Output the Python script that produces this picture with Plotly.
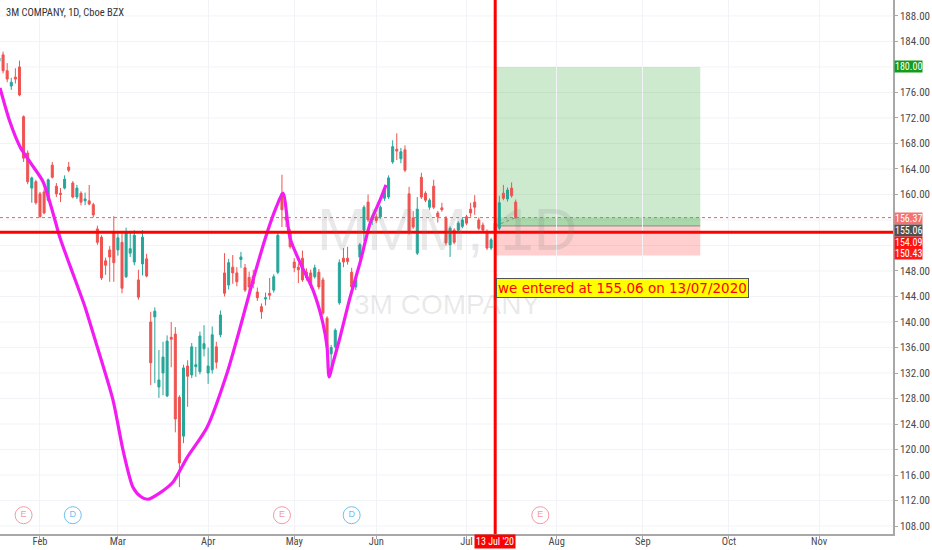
import plotly.graph_objects as go

# ---------------------------------
# Daily candles
# ---------------------------------

dates = [
    "2020-01-17", "2020-01-21", "2020-01-22", "2020-01-23", "2020-01-24", "2020-01-27",
    "2020-01-28", "2020-01-29", "2020-01-30", "2020-01-31",
    "2020-02-03", "2020-02-04", "2020-02-05", "2020-02-06", "2020-02-07", "2020-02-10",
    "2020-02-11", "2020-02-12", "2020-02-13", "2020-02-14", "2020-02-18", "2020-02-19",
    "2020-02-20", "2020-02-21", "2020-02-24", "2020-02-25", "2020-02-26", "2020-02-27",
    "2020-02-28",
    "2020-03-02", "2020-03-03", "2020-03-04", "2020-03-05", "2020-03-06", "2020-03-09",
    "2020-03-10", "2020-03-11", "2020-03-12", "2020-03-13", "2020-03-16", "2020-03-17",
    "2020-03-18", "2020-03-19", "2020-03-20", "2020-03-23", "2020-03-24", "2020-03-25",
    "2020-03-26", "2020-03-27", "2020-03-30", "2020-03-31",
    "2020-04-01", "2020-04-02", "2020-04-03", "2020-04-06", "2020-04-07", "2020-04-08",
    "2020-04-09", "2020-04-13", "2020-04-14", "2020-04-15", "2020-04-16", "2020-04-17",
    "2020-04-20", "2020-04-21", "2020-04-22", "2020-04-23", "2020-04-24", "2020-04-27",
    "2020-04-28", "2020-04-29", "2020-04-30",
    "2020-05-01", "2020-05-04", "2020-05-05", "2020-05-06", "2020-05-07", "2020-05-08",
    "2020-05-11", "2020-05-12", "2020-05-13", "2020-05-14", "2020-05-15", "2020-05-18",
    "2020-05-19", "2020-05-20", "2020-05-21", "2020-05-22", "2020-05-26", "2020-05-27",
    "2020-05-28", "2020-05-29",
    "2020-06-01", "2020-06-02", "2020-06-03", "2020-06-04", "2020-06-05", "2020-06-08",
    "2020-06-09", "2020-06-10", "2020-06-11", "2020-06-12", "2020-06-15", "2020-06-16",
    "2020-06-17", "2020-06-18", "2020-06-19", "2020-06-22", "2020-06-23", "2020-06-24",
    "2020-06-25", "2020-06-26", "2020-06-29", "2020-06-30",
    "2020-07-01", "2020-07-02", "2020-07-06", "2020-07-07", "2020-07-08", "2020-07-09",
    "2020-07-10", "2020-07-13", "2020-07-14", "2020-07-15", "2020-07-16", "2020-07-17",
    "2020-07-20",
]

opens = [
    180.9, 181.9, 179.4, 177.0, 178.4, 180.0, 172.2, 166.5, 161.0, 162.0,
    160.1, 160.4, 159.1, 164.6, 161.3, 160.2, 161.0, 164.3, 161.8, 159.6, 160.2, 159.0,
    159.0, 158.4, 154.6, 153.3, 149.6, 151.3, 154.1,
    151.3, 152.5, 147.1, 150.8, 149.4, 146.6, 149.1, 149.9, 140.0, 140.8, 129.8, 132.0,
    128.4, 137.6, 138.1, 128.2, 122.1, 133.1, 131.7, 133.0, 132.2, 135.8,
    132.0, 132.5, 136.1, 138.0, 147.7, 145.8, 148.6, 147.7, 149.8, 148.5, 147.0, 147.2,
    144.7, 142.4, 143.6, 144.5, 145.0, 147.8, 160.2, 156.5, 154.0,
    149.4, 148.6, 150.0, 147.8, 147.7, 147.1, 147.8, 146.6, 140.6, 135.0, 136.1, 143.0,
    150.0, 150.0, 147.8, 145.5, 150.2, 154.4, 158.8, 156.0,
    156.5, 156.5, 159.4, 159.6, 165.1, 167.1, 165.6, 167.0, 160.1, 156.3, 150.8, 162.7,
    160.2, 158.0, 161.3, 157.1, 157.9, 156.3, 152.1, 154.4, 154.4, 155.0,
    156.5, 157.7, 158.8, 156.0, 155.2, 154.1, 151.6, 155.5, 154.7, 160.2, 159.3, 161.0,
    158.8,
]

highs = [
    182.0, 182.4, 180.6, 178.3, 179.8, 181.0, 172.4, 166.9, 162.8, 162.3,
    160.4, 160.9, 162.5, 165.1, 161.8, 161.0, 163.0, 165.1, 162.1, 161.5, 160.5, 160.3,
    161.5, 158.7, 155.1, 153.6, 150.1, 151.9, 156.6,
    154.2, 153.9, 154.8, 154.2, 154.4, 148.2, 154.4, 150.7, 141.6, 142.3, 135.6, 136.9,
    137.9, 140.0, 139.2, 128.5, 133.3, 134.0, 136.7, 136.1, 138.5, 139.5,
    136.0, 139.3, 136.9, 141.8, 150.8, 149.9, 150.5, 148.6, 151.0, 149.1, 147.9, 148.2,
    145.4, 142.9, 144.6, 146.9, 147.5, 154.0, 163.1, 157.6, 154.6,
    150.0, 149.2, 151.2, 148.4, 148.2, 149.0, 148.3, 147.0, 140.9, 136.4, 139.0, 149.8,
    151.6, 151.8, 148.5, 147.3, 152.4, 158.3, 160.0, 156.8,
    157.0, 158.3, 161.0, 163.0, 168.5, 169.6, 167.3, 167.7, 161.2, 157.4, 159.6, 163.4,
    160.5, 159.4, 162.3, 157.4, 158.7, 156.6, 155.0, 154.7, 155.8, 156.3,
    156.8, 158.7, 159.9, 156.4, 155.6, 154.5, 153.2, 157.0, 159.8, 161.5, 161.1, 161.9,
    159.2,
]

lows = [
    180.3, 179.0, 177.6, 176.4, 177.4, 175.4, 165.1, 161.6, 158.7, 158.4,
    156.4, 156.9, 158.9, 162.5, 159.6, 158.8, 160.8, 163.5, 159.4, 159.3, 158.3, 158.3,
    158.3, 156.4, 152.1, 146.6, 147.4, 146.3, 146.3,
    150.4, 144.5, 146.9, 150.2, 148.9, 143.5, 147.3, 147.0, 130.1, 130.4, 128.1, 128.5,
    128.2, 132.9, 122.7, 114.1, 121.0, 126.7, 131.2, 131.4, 131.8, 134.6,
    130.3, 131.9, 132.7, 137.6, 144.0, 145.1, 146.0, 145.6, 148.5, 144.7, 144.8, 145.3,
    143.3, 140.5, 142.6, 143.5, 144.6, 147.5, 154.9, 154.9, 151.5,
    147.8, 146.1, 146.3, 146.5, 145.3, 146.8, 145.1, 141.1, 135.8, 133.0, 135.8, 142.7,
    148.6, 149.0, 145.0, 145.0, 149.8, 152.7, 155.7, 155.2,
    155.5, 156.2, 159.0, 159.3, 164.8, 165.4, 164.9, 163.5, 153.7, 154.6, 150.5, 159.3,
    158.8, 157.6, 157.7, 155.6, 157.3, 152.0, 150.2, 152.2, 154.0, 154.7,
    155.2, 156.5, 156.8, 154.4, 154.1, 151.3, 151.3, 153.2, 154.4, 159.1, 158.9, 159.5,
    156.2,
]

closes = [
    181.4, 179.4, 178.1, 177.6, 178.1, 175.6, 165.7, 162.0, 162.6, 158.7,
    156.5, 157.1, 162.3, 162.7, 160.1, 160.0, 162.4, 163.8, 159.6, 161.0, 158.8, 159.3,
    158.5, 156.8, 152.5, 146.9, 148.9, 150.2, 149.3,
    153.2, 145.3, 154.0, 151.5, 153.6, 143.9, 153.3, 147.2, 133.6, 141.7, 130.9, 134.5,
    137.0, 137.3, 124.8, 117.9, 132.8, 131.5, 136.1, 133.3, 137.8, 136.6,
    133.1, 138.0, 133.7, 141.1, 144.5, 149.3, 147.7, 146.3, 150.2, 145.0, 145.5, 146.0,
    143.8, 141.6, 143.8, 144.2, 147.1, 153.6, 157.6, 156.0, 151.8,
    148.5, 148.2, 146.6, 146.9, 145.8, 148.5, 145.5, 141.4, 136.1, 136.0, 138.7, 149.3,
    149.4, 149.5, 145.5, 146.6, 152.1, 158.0, 156.0, 156.5,
    155.9, 158.0, 160.7, 162.6, 167.5, 166.8, 166.7, 163.8, 154.0, 154.9, 157.7, 159.6,
    159.1, 159.1, 158.0, 156.5, 157.6, 152.4, 154.7, 152.5, 155.5, 156.0,
    155.5, 157.1, 158.0, 154.7, 154.4, 151.6, 152.9, 154.3, 158.7, 159.4, 160.7, 159.8,
    156.37,
]

# ---------------------------------
# Hand-drawn magenta brush line
# ---------------------------------

brush_x = [
    "2020-01-17 06:00", "2020-01-22 16:00", "2020-01-27 03:00", "2020-01-29 13:00",
    "2020-02-03 18:00", "2020-02-06 04:00", "2020-02-07 21:00", "2020-02-12 08:00",
    "2020-02-18 23:00", "2020-02-20 22:00", "2020-02-27 19:00", "2020-03-03 06:00",
    "2020-03-05 16:00", "2020-03-09 15:00", "2020-03-11 08:00", "2020-03-16 06:00",
    "2020-03-19 11:00", "2020-03-24 20:00", "2020-03-31 18:00", "2020-04-07 15:00",
    "2020-04-13 19:00", "2020-04-16 23:00", "2020-04-22 09:00", "2020-04-24 13:00",
    "2020-04-28 06:00", "2020-04-29 23:00", "2020-05-04 10:00", "2020-05-07 14:00",
    "2020-05-12 00:00", "2020-05-13 00:00", "2020-05-13 12:00", "2020-05-14 11:00",
    "2020-05-18 04:00", "2020-05-20 15:00", "2020-05-26 01:00", "2020-05-28 12:00",
    "2020-06-01 22:00", "2020-06-03 09:00",
]
brush_y = [
    176.7, 171.4, 167.5, 165.1, 162.0, 157.1, 153.2, 148.8,
    142.4, 138.3, 127.8, 119.9, 114.1, 112.6, 112.2, 113.2,
    114.9, 118.7, 123.5, 132.0, 139.1, 146.6, 154.0, 157.9,
    160.2, 153.2, 149.3, 145.0, 139.8, 136.1, 131.4, 133.6,
    137.6, 143.9, 149.3, 155.5, 159.1, 161.5,
]

# ---------------------------------
# Trade setup, price lines, events
# ---------------------------------

entry_date = "2020-07-13"
box_end = "2020-09-22"
entry_price = 155.06
target_price = 180.00
stop_price = 150.43
red_level = 154.09
last_price = 156.37
note_price = 145.3
note_text = "we entered at 155.06 on 13/07/2020"
date_tag = "13 Jul '20"

event_dates = ["2020-01-28", "2020-02-13", "2020-04-28", "2020-05-21", "2020-07-28"]
event_kinds = ["E", "D", "E", "D", "E"]
event_level = 109.7

holidays = ["2020-01-20", "2020-02-17", "2020-04-10", "2020-05-25",
            "2020-07-03", "2020-09-07", "2020-11-26"]
month_ticks = ["2020-02-03", "2020-03-02", "2020-04-01", "2020-05-01", "2020-06-01",
               "2020-07-01", "2020-08-03", "2020-09-01", "2020-10-01", "2020-11-02"]
month_text = ["Feb", "Mar", "Apr", "May", "Jun", "Jul", "Aug", "Sep", "Oct", "Nov"]

# price ticks not hidden behind the price tags
price_ticks = [108, 112, 116, 120, 124, 128, 132, 136, 140, 144, 148,
               160, 164, 168, 172, 176, 184, 188]
grid_ticks = list(range(108, 190, 4))

price_tags = [180.00, 156.37, 155.06, 154.09, 150.43]
tag_colors = ["#119c1c", "#f27373", "#505050", "#ff1010", "#ff1a1a"]
tag_shift = [0, -0.5, -4.5, -10, 1.5]

UP = "#26a69a"
DOWN = "#ef5350"
FONT = "Liberation Sans"
NARROW = "Liberation Sans Narrow, Roboto Condensed, Liberation Sans"

# ---------------------------------
# Create Chart
# ---------------------------------

fig = go.Figure()

fig.add_trace(go.Candlestick(
    x=dates, open=opens, high=highs, low=lows, close=closes,
    increasing=dict(line=dict(color=UP, width=1), fillcolor=UP),
    decreasing=dict(line=dict(color=DOWN, width=1), fillcolor=DOWN),
    whiskerwidth=0,
    showlegend=False,
    hoverinfo="skip",
))

fig.add_trace(go.Scatter(
    x=brush_x, y=brush_y, mode="lines",
    line=dict(color="#f21cf2", width=3.2, shape="spline", smoothing=0.7),
    showlegend=False, hoverinfo="skip",
))

# small dashed trade line inside the box
fig.add_trace(go.Scatter(
    x=[entry_date, dates[-1]], y=[entry_price, last_price], mode="lines",
    line=dict(color="#8a8a8a", width=1, dash="dot"),
    showlegend=False, hoverinfo="skip",
))

for kind in ["E", "D"]:
    col = "#f29aa5" if kind == "E" else "#6fc0ee"
    xs = [d for d, k in zip(event_dates, event_kinds) if k == kind]
    fig.add_trace(go.Scatter(
        x=xs, y=[event_level] * len(xs), mode="markers+text",
        text=[kind] * len(xs), textposition="middle center",
        textfont=dict(family=FONT, size=9, color=col),
        marker=dict(symbol="circle", size=17, color="white",
                    line=dict(color=col, width=1)),
        showlegend=False, hoverinfo="skip",
    ))

# ---------------------------------
# Long position boxes
# ---------------------------------

fig.add_shape(type="rect", xref="x", yref="y", x0=entry_date, x1=box_end,
              y0=entry_price, y1=target_price, layer="below",
              fillcolor="rgba(76,175,80,0.28)", line_width=0)
fig.add_shape(type="rect", xref="x", yref="y", x0=entry_date, x1=box_end,
              y0=entry_price, y1=last_price, layer="below",
              fillcolor="rgba(76,175,80,0.28)", line_width=0)
fig.add_shape(type="rect", xref="x", yref="y", x0=entry_date, x1=box_end,
              y0=stop_price, y1=entry_price, layer="below",
              fillcolor="rgba(255,82,82,0.28)", line_width=0)
fig.add_shape(type="line", xref="x", yref="y", x0=entry_date, x1=box_end,
              y0=entry_price, y1=entry_price, layer="below",
              line=dict(color="rgba(110,110,110,0.7)", width=1))

# last price dotted line
fig.add_shape(type="line", xref="paper", yref="y", x0=0, x1=1,
              y0=last_price, y1=last_price, layer="below",
              line=dict(color="#f06060", width=1, dash="dot"))

# horizontal grid at every 4.00 (also behind hidden tick labels)
for g in grid_ticks:
    fig.add_shape(type="line", xref="paper", yref="y", x0=0, x1=1,
                  y0=g, y1=g, layer="below",
                  line=dict(color="#f1f3f7", width=1))

# red lines
fig.add_shape(type="line", xref="paper", yref="y", x0=0, x1=1,
              y0=red_level, y1=red_level, layer="above",
              line=dict(color="#ff0000", width=3))
fig.add_shape(type="line", xref="x", yref="paper", x0=entry_date, x1=entry_date,
              y0=0, y1=1, layer="above",
              line=dict(color="#ff0000", width=3))

# ---------------------------------
# Texts
# ---------------------------------

fig.add_annotation(x=0.5, y=0.57, xref="paper", yref="paper", text="MMM, 1D",
                   showarrow=False, font=dict(family=FONT, size=60,
                                              color="rgba(120,120,120,0.16)"))
fig.add_annotation(x=0.5, y=0.43, xref="paper", yref="paper", text="3M COMPANY",
                   showarrow=False, font=dict(family=FONT, size=28,
                                              color="rgba(120,120,120,0.16)"))

fig.add_annotation(x=0, y=1, xref="paper", yref="paper", xanchor="left",
                   yanchor="top", xshift=4, yshift=-4,
                   text="3M COMPANY, 1D, Cboe BZX", showarrow=False,
                   font=dict(family=NARROW, size=10.5, color="#333333"))

fig.add_annotation(x=entry_date, y=note_price, xref="x", yref="y",
                   xanchor="left", text=note_text, showarrow=False,
                   bgcolor="#ffff00", bordercolor="#555555", borderwidth=1,
                   borderpad=1, xshift=1,
                   font=dict(family="DejaVu Sans", size=13.5, color="#ff0000"))

fig.add_annotation(x=entry_date, y=0, xref="x", yref="paper", yanchor="top",
                   text=date_tag, showarrow=False, bgcolor="#ff0000",
                   borderpad=1, yshift=0,
                   font=dict(family=NARROW, size=10, color="white"))

for p, c, s in zip(price_tags, tag_colors, tag_shift):
    fig.add_annotation(x=1, y=p, xref="paper", yref="y", xanchor="left",
                       text=f"{p:.2f}", showarrow=False, bgcolor=c,
                       borderpad=0, yshift=s, xshift=1,
                       font=dict(family=NARROW, size=10, color="white"))

# ---------------------------------
# Layout
# ---------------------------------

fig.update_layout(
    width=932, height=550,
    margin=dict(l=0, r=39, t=0, b=16, autoexpand=False),
    paper_bgcolor="white", plot_bgcolor="white",
    showlegend=False,
    font=dict(family=NARROW, size=11, color="#4a4a4a"),
    xaxis=dict(
        range=["2020-01-17 06:00", "2020-11-27 00:00"],
        rangebreaks=[dict(bounds=["sat", "mon"]), dict(values=holidays)],
        rangeslider=dict(visible=False),
        tickmode="array", tickvals=month_ticks, ticktext=month_text,
        showgrid=True, gridcolor="#f1f3f7", gridwidth=1,
        showline=True, linecolor="#a8a8a8", linewidth=1.5,
        ticks="outside", ticklen=3, tickcolor="#a8a8a8",
        ticklabelstandoff=-6,
        tickfont=dict(family=NARROW, size=10.5, color="#4a4a4a"),
        zeroline=False, fixedrange=True,
    ),
    yaxis=dict(
        side="right", range=[106.75, 190.5],
        tickmode="array", tickvals=price_ticks,
        ticktext=[f"{t:.2f}" for t in price_ticks],
        showgrid=False,
        showline=True, linecolor="#a8a8a8", linewidth=1.5,
        ticks="outside", ticklen=3, tickcolor="#a8a8a8",
        tickfont=dict(family=NARROW, size=11, color="#4a4a4a"),
        zeroline=False, fixedrange=True,
    ),
)

fig.write_html("out.html", config={"displayModeBar": False},
               post_script="document.body.style.margin='0';")
